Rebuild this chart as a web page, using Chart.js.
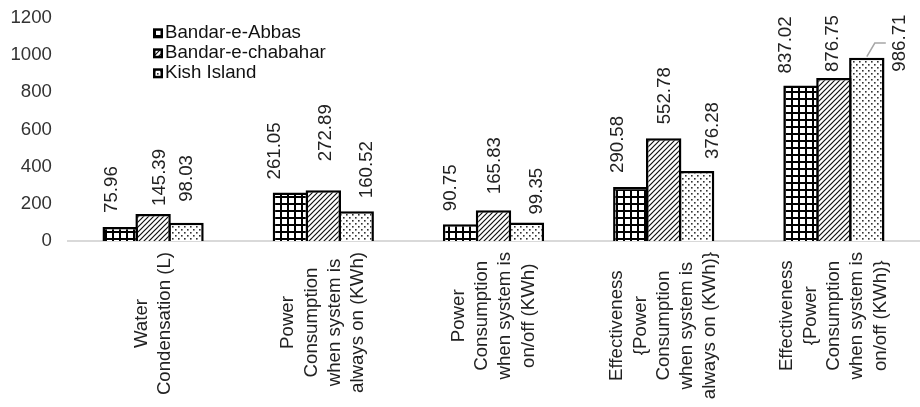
<!DOCTYPE html>
<html>
<head>
<meta charset="utf-8">
<style>
  html, body { margin: 0; padding: 0; background: #fff; }
  #wrap { width: 920px; height: 407px; }
</style>
<script src="https://cdn.jsdelivr.net/npm/chart.js@4.4.1/dist/chart.umd.min.js"></script>
</head>
<body>
<div id="wrap"><canvas id="c" width="920" height="407"></canvas></div>
<script>
// Categories (one entry per wrapped line of the axis label)
const categories = [
  ['Water', 'Condensation (L)'],
  ['Power', 'Consumption', 'when system is', 'always on (KWh)'],
  ['Power', 'Consumption', 'when system is', 'on/off (KWh)'],
  ['Effectiveness', '{Power', 'Consumption', 'when system is', 'always on (KWh)}'],
  ['Effectiveness', '{Power', 'Consumption', 'when system is', 'on/off (KWh)}']
];
const seriesNames = ['Bandar-e-Abbas', 'Bandar-e-chabahar', 'Kish Island'];
const bandarAbbas    = [75.96, 261.05, 90.75, 290.58, 837.02];
const bandarChabahar = [145.39, 272.89, 165.83, 552.78, 876.75];
const kishIsland     = [98.03, 160.52, 99.35, 376.28, 986.71];
const yTicks = [0, 200, 400, 600, 800, 1000, 1200];

// Value-label placement relative to each bar: [x shift, gap above bar top]
const labelNudge = [
  [[-8, 14], [-16, 13], [-9.5, 13], [-13, 14], [-15, 12]],
  [[7, 8], [3, 29], [1, 16], [1, 14], [-1, 6]],
  [[1, 21], [11, 13], [10, 8], [16, 12], [33, -14]]
];
// Labels that get a leader line back to their bar: [series, category]
const leaderLabels = [[2, 4]];

const FAMILY = '"Liberation Sans", Arial, sans-serif';
const FS = 18.67;

function makeTile(size, draw) {
  const c = document.createElement('canvas');
  c.width = size; c.height = size;
  const g = c.getContext('2d');
  g.fillStyle = '#fff';
  g.fillRect(0, 0, size, size);
  draw(g, size);
  return g.createPattern(c, 'repeat');
}
// square grid
const gridFill = makeTile(7, (g) => {
  g.fillStyle = '#000';
  g.fillRect(0, 0, 7, 2);
  g.fillRect(0, 0, 2, 7);
});
// forward diagonal hatch
const hatchFill = makeTile(5, (g, s) => {
  g.strokeStyle = '#111';
  g.lineWidth = 1.2;
  g.beginPath();
  g.moveTo(-1, s + 1); g.lineTo(s + 1, -1);
  g.moveTo(-1, 1); g.lineTo(1, -1);
  g.moveTo(s - 1, s + 1); g.lineTo(s + 1, s - 1);
  g.stroke();
});
// sparse dots
const dotFill = makeTile(6, (g) => {
  g.fillStyle = '#333';
  g.fillRect(1, 1, 1.6, 1.6);
  g.fillRect(4, 4, 1.6, 1.6);
});
const fills = [gridFill, hatchFill, dotFill];
const seriesData = [bandarAbbas, bandarChabahar, kishIsland];

const BORDER = 2.5;
const CAT_PCT = 0.58;
const slot = 170 * CAT_PCT / 3;

const decorations = {
  id: 'decorations',
  afterDatasetsDraw(chart) {
    const ctx = chart.ctx;
    ctx.save();
    ctx.font = `${FS}px ${FAMILY}`;
    ctx.fillStyle = '#222';
    chart.data.datasets.forEach((ds, i) => {
      const meta = chart.getDatasetMeta(i);
      meta.data.forEach((bar, j) => {
        const [dx, gap] = labelNudge[i][j];
        const txt = ds.data[j].toFixed(2);
        const w = ctx.measureText(txt).width;
        const ax = bar.x + dx;
        const ay = bar.y - gap;
        ctx.save();
        ctx.translate(ax, ay);
        ctx.rotate(-Math.PI / 2);
        ctx.textAlign = 'left';
        ctx.textBaseline = 'middle';
        ctx.fillText(txt, 0, 0);
        ctx.restore();
        if (leaderLabels.some(([a, b]) => a === i && b === j)) {
          const midY = ay - w / 2;
          ctx.save();
          ctx.strokeStyle = '#a6a6a6';
          ctx.lineWidth = 1.5;
          ctx.beginPath();
          ctx.moveTo(bar.x, bar.y - 1);
          ctx.lineTo(ax - 25, midY);
          ctx.lineTo(ax - 14, midY);
          ctx.stroke();
          ctx.restore();
        }
      });
    });
    ctx.restore();
  },
  afterDraw(chart) {
    const ctx = chart.ctx;
    const xs = chart.scales.x;
    const area = chart.chartArea;
    ctx.save();
    ctx.font = `${FS}px ${FAMILY}`;
    ctx.fillStyle = '#222';
    // category labels, rotated, lines centred on each other
    categories.forEach((lines, i) => {
      const cx = xs.getPixelForValue(i);
      const maxW = Math.max(...lines.map(l => ctx.measureText(l).width));
      const cy = area.bottom + 11 + maxW / 2;
      const lh = 23.3;
      lines.forEach((line, k) => {
        const x = cx + (k - (lines.length - 1) / 2) * lh;
        ctx.save();
        ctx.translate(x, cy);
        ctx.rotate(-Math.PI / 2);
        ctx.textAlign = 'center';
        ctx.textBaseline = 'middle';
        ctx.fillText(line, 0, 0);
        ctx.restore();
      });
    });
    // legend
    const rows = [33.3, 53.3, 73.3];
    seriesNames.forEach((name, i) => {
      const y = rows[i];
      ctx.fillStyle = '#000';
      ctx.fillRect(153, y - 5, 10, 10);
      ctx.fillStyle = fills[i];
      ctx.fillRect(155.5, y - 2.5, 5, 5);
      ctx.fillStyle = '#111';
      ctx.textAlign = 'left';
      ctx.textBaseline = 'middle';
      ctx.fillText(name, 165, y);
    });
    ctx.restore();
  }
};

new Chart(document.getElementById('c'), {
  type: 'bar',
  data: {
    labels: categories.map(l => l.join(' ')),
    datasets: seriesNames.map((name, i) => ({
      label: name,
      data: seriesData[i],
      backgroundColor: fills[i],
      borderColor: '#000',
      borderWidth: BORDER,
      categoryPercentage: CAT_PCT,
      barPercentage: 1 + BORDER / slot
    }))
  },
  options: {
    responsive: false,
    animation: false,
    layout: { padding: { top: 18, right: 1, left: 0, bottom: 0 } },
    plugins: { legend: { display: false }, tooltip: { enabled: false } },
    scales: {
      x: {
        grid: { display: false, drawTicks: false },
        ticks: { display: false },
        border: { display: true, color: '#d9d9d9', width: 2 },
        afterFit(s) { s.height = 166; }
      },
      y: {
        min: yTicks[0],
        max: yTicks[yTicks.length - 1],
        ticks: {
          stepSize: yTicks[1] - yTicks[0],
          padding: 16,
          color: '#333',
          font: { family: FAMILY, size: FS },
          callback: (v) => String(v)
        },
        grid: { display: false, drawTicks: false },
        border: { display: false },
        afterFit(s) {
          s.width = 68;
          s.paddingTop = 0;
          s.paddingBottom = 0;
        }
      }
    }
  },
  plugins: [decorations]
});
</script>
</body>
</html>
